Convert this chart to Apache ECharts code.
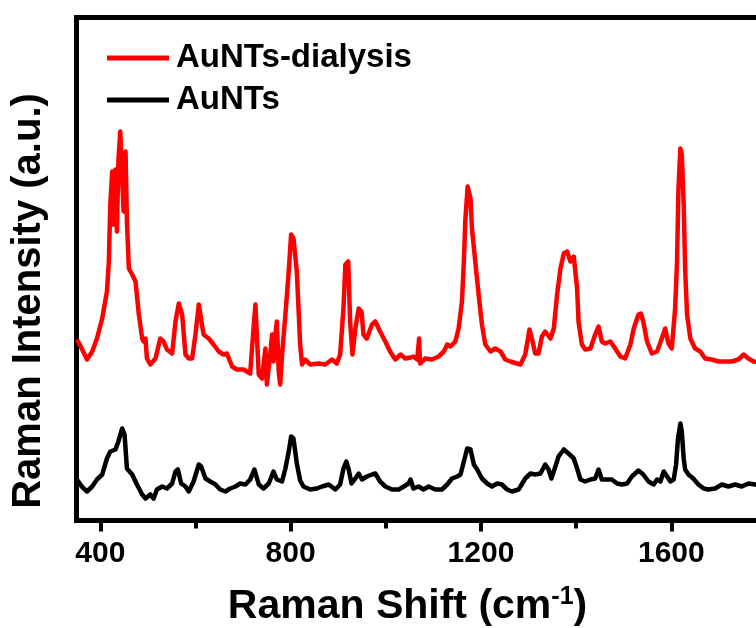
<!DOCTYPE html>
<html>
<head>
<meta charset="utf-8">
<style>
  html, body { margin: 0; padding: 0; overflow: hidden; background: #fff; }
  #chart { width: 800px; height: 628px; }
</style>
<script src="https://cdn.jsdelivr.net/npm/echarts@6/dist/echarts.min.js"></script>
</head>
<body>
<div id="chart"></div>
<script>
// Raman spectra: Raman shift (cm-1) and intensity (a.u.)
const shiftDialysis = [351,361,372,383,393,404,414,418,421,425,428,432,435,438,442,446,449,453,456,460,467,474,481,488,491,495,498,505,516,526,533,540,551,558,565,572,579,586,593,600,607,610,617,628,638,649,659,666,677,687,701,715,719,722,726,729,733,740,747,750,757,761,764,768,771,775,778,782,789,796,801,806,813,820,824,831,841,859,873,887,897,904,911,915,921,925,930,936,943,949,953,960,971,978,988,999,1009,1020,1031,1041,1052,1058,1066,1069,1070,1072,1083,1097,1111,1122,1129,1136,1146,1153,1160,1164,1167,1172,1178,1181,1188,1195,1202,1209,1220,1230,1241,1251,1262,1276,1283,1293,1302,1307,1314,1321,1328,1335,1346,1353,1360,1367,1374,1381,1388,1395,1402,1405,1412,1419,1430,1440,1447,1454,1461,1472,1482,1493,1503,1514,1521,1531,1536,1541,1549,1559,1570,1580,1587,1594,1601,1608,1612,1615,1619,1622,1626,1629,1633,1640,1650,1661,1671,1685,1699,1713,1727,1741,1752,1762,1773,1786,1800];
const intensityDialysis = [181,172,161,169,182,202,229,259,316,349,296,351,289,359,389,389,309,369,299,252,246,239,206,182,179,182,162,156,162,182,179,171,167,199,217,206,166,162,162,186,216,217,186,182,176,169,166,167,154,151,151,147,146,192,216,186,146,142,172,136,166,186,159,186,199,149,136,166,206,249,286,282,249,176,156,161,156,157,156,161,157,166,212,256,259,199,166,192,212,209,186,182,196,199,189,179,169,161,166,162,163,164,161,161,182,157,162,161,164,169,176,174,179,192,219,259,299,334,322,292,259,226,196,176,169,172,169,161,159,157,156,166,191,182,167,167,184,189,182,192,226,252,267,269,259,264,232,199,176,171,172,186,194,179,177,179,172,164,162,176,192,206,207,199,179,167,169,182,192,177,172,212,259,332,372,366,316,252,206,182,172,169,162,161,159,159,159,161,166,162,159,158,158];

const shiftPlain = [351,361,372,383,393,404,414,421,432,438,446,451,456,467,477,488,495,505,512,519,530,540,551,558,563,570,579,586,596,607,612,621,631,642,652,663,673,684,694,705,715,724,733,743,754,764,771,782,789,796,801,806,813,820,827,841,855,866,880,894,904,911,917,922,928,936,943,950,960,971,978,988,999,1013,1027,1038,1048,1052,1058,1069,1079,1090,1104,1118,1129,1139,1150,1157,1164,1171,1178,1185,1192,1202,1213,1223,1234,1244,1255,1265,1279,1283,1293,1304,1314,1325,1335,1342,1348,1355,1363,1374,1384,1395,1402,1409,1419,1430,1440,1447,1454,1465,1475,1486,1496,1507,1517,1524,1531,1535,1541,1552,1563,1570,1577,1584,1591,1598,1605,1610,1614,1619,1622,1626,1629,1636,1646,1657,1668,1678,1692,1706,1720,1734,1748,1762,1776,1790,1800];
const intensityPlain = [41,34,29,34,41,46,62,69,71,79,92,86,52,46,36,26,22,26,22,31,34,32,37,49,51,37,34,29,39,56,54,42,39,36,31,29,32,34,37,36,41,51,36,32,37,49,41,39,52,69,84,82,57,40,34,31,32,34,36,31,36,52,59,51,37,42,47,41,44,46,47,39,34,31,31,34,37,41,32,34,31,34,31,31,36,42,44,46,59,72,71,56,51,42,37,34,37,36,31,29,31,34,42,47,46,47,56,51,42,52,64,71,67,62,52,41,39,41,42,51,41,41,41,37,36,37,44,47,50,51,46,39,36,41,39,49,44,39,41,56,82,97,89,62,51,46,42,36,32,31,32,36,34,36,34,37,36,35,35];

const seriesNames = ['AuNTs-dialysis', 'AuNTs'];
const seriesColors = ['#ff0000', '#000000'];
const majorTicks = [400, 800, 1200, 1600];
const minorTicks = [600, 1000, 1400, 1800];

const pairs = (xs, ys) => xs.map((x, i) => [x, ys[i]]);
const fontFamily = "'Liberation Sans', Arial, sans-serif";

const chart = echarts.init(document.getElementById('chart'), null, { renderer: 'canvas' });

const legendBase = {
  orient: 'vertical',
  left: 107,
  padding: 0,
  icon: 'rect',
  itemWidth: 62,
  itemHeight: 5,
  textStyle: { fontFamily, fontSize: 33, fontWeight: 'bold', color: '#000', padding: [0, 0, 0, 2] }
};

chart.setOption({
  animation: false,
  backgroundColor: '#fff',
  grid: {
    left: 76.5, top: 17.5, width: 690, height: 503,
    outerBoundsMode: 'none', containLabel: false,
    show: true, borderColor: '#000', borderWidth: 5, backgroundColor: 'transparent'
  },
  legend: [
    Object.assign({}, legendBase, { top: 41.5, data: [seriesNames[0]] }),
    Object.assign({}, legendBase, { top: 83.5, data: [seriesNames[1]] })
  ],
  xAxis: [
    {
      type: 'value', min: 350, max: 1800, position: 'bottom',
      name: '{t|Raman Shift (cm}{s|-1}{t|)}',
      nameLocation: 'middle', nameGap: 64,
      nameTextStyle: {
        padding: [0, 28, 0, 0],
        rich: {
          t: { fontFamily, fontSize: 41, fontWeight: 'bold', color: '#000' },
          s: { fontFamily, fontSize: 25, fontWeight: 'bold', color: '#000', padding: [0, 0, 20, 0] }
        }
      },
      axisLine: { show: true, lineStyle: { color: '#000', width: 5 } },
      axisTick: { show: true, customValues: majorTicks, length: 11, lineStyle: { color: '#000', width: 4 } },
      axisLabel: {
        show: true, customValues: majorTicks, margin: 18,
        formatter: (v) => String(v),
        fontFamily, fontSize: 30, fontWeight: 'bold', color: '#000'
      },
      splitLine: { show: false }
    },
    {
      type: 'value', min: 350, max: 1800, position: 'bottom',
      axisLine: { show: false },
      axisTick: { show: true, customValues: minorTicks, length: 8, lineStyle: { color: '#000', width: 4 } },
      axisLabel: { show: false },
      splitLine: { show: false }
    }
  ],
  yAxis: {
    type: 'value', min: 0, max: 503,
    name: 'Raman Intensity (a.u.)',
    nameLocation: 'middle', nameGap: 28,
    nameTextStyle: { fontFamily, fontSize: 40, fontWeight: 'bold', color: '#000', padding: [0, 64, 0, 0] },
    axisLine: { show: true, lineStyle: { color: '#000', width: 5 } },
    axisTick: { show: false },
    axisLabel: { show: false },
    splitLine: { show: false }
  },
  series: [
    {
      name: seriesNames[0], type: 'line', xAxisIndex: 0,
      data: pairs(shiftDialysis, intensityDialysis),
      showSymbol: false, symbol: 'none',
      lineStyle: { color: seriesColors[0], width: 4.5, join: 'round' },
      itemStyle: { color: seriesColors[0] }
    },
    {
      name: seriesNames[1], type: 'line', xAxisIndex: 0,
      data: pairs(shiftPlain, intensityPlain),
      showSymbol: false, symbol: 'none',
      lineStyle: { color: seriesColors[1], width: 4.5, join: 'round' },
      itemStyle: { color: seriesColors[1] }
    }
  ]
});
</script>
</body>
</html>
